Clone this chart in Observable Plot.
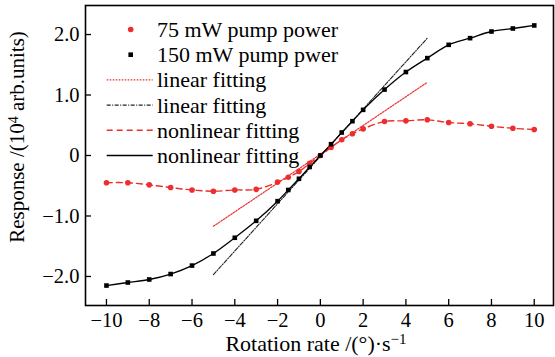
<!DOCTYPE html>
<html><head><meta charset="utf-8">
<script src="https://cdn.jsdelivr.net/npm/d3@7"></script>
<script src="https://cdn.jsdelivr.net/npm/@observablehq/plot@0.6"></script>
<style>
body{margin:0;background:#fff;}
#chart svg{font-family:"Liberation Serif","Times New Roman",serif;}
</style></head><body><div id="chart"></div>
<script>
const rates = [-10,-9,-8,-7,-6,-5,-4,-3,-2,-1.5,-1,-0.5,0,0.5,1,1.5,2,3,4,5,6,7,8,9,10];
const power75 = [-0.45,-0.45,-0.485,-0.53,-0.57,-0.59,-0.57,-0.56,-0.44,-0.36,-0.265,-0.13,0,0.132,0.26,0.36,0.44,0.562,0.573,0.59,0.545,0.524,0.484,0.45,0.43];
const power150 = [-2.15,-2.10,-2.05,-1.96,-1.82,-1.62,-1.36,-1.08,-0.755,-0.57,-0.385,-0.19,0,0.187,0.38,0.567,0.755,1.09,1.38,1.61,1.83,1.94,2.05,2.10,2.15];
const fitRates = [-5, 5];
const linear75 = [-1.17, 1.21];
const linear150 = [-1.97, 1.94];
const xTicks = [-10,-8,-6,-4,-2,0,2,4,6,8,10];
const yTicks = [-2,-1,0,1,2];
const yTickLabels = ["\u22122.0","\u22121.0","0","1.0","2.0"];
const legendLabels = ["75 mW pump power","150 mW pump pwer","linear fitting","linear fitting","nonlinear fitting","nonlinear fitting"];

const RED = "#ee2e2e";
const d75 = rates.map((x,i)=>({x, y: power75[i]}));
const d150 = rates.map((x,i)=>({x, y: power150[i]}));
const f75 = fitRates.map((x,i)=>({x, y: linear75[i]}));
const f150 = fitRates.map((x,i)=>({x, y: linear150[i]}));

const svg = Plot.plot({
  width: 555, height: 357,
  marginLeft: 85, marginRight: 2, marginTop: 5, marginBottom: 52,
  style: {fontFamily: "'Liberation Serif', serif", fontSize: "20.5px", color: "black", background: "white"},
  x: {domain: [-10.98, 10.9]},
  y: {domain: [-2.48, 2.48]},
  marks: [
    Plot.axisX({ticks: xTicks, tickSize: -6, tickPadding: 13, label: null, tickFormat: d => d3.format("d")(d), strokeWidth: 1.3}),
    Plot.axisY({ticks: yTicks, tickSize: -6, tickPadding: 12, label: null, tickFormat: d => yTickLabels[yTicks.indexOf(d)], strokeWidth: 1.3}),
    Plot.line(f75, {x: "x", y: "y", stroke: RED, strokeWidth: 1.2, strokeDasharray: "1.6,1.4"}),
    Plot.line(f150, {x: "x", y: "y", stroke: "#222", strokeWidth: 1.1, strokeDasharray: "4,1.5,1,1.5"}),
    Plot.line(d75, {x: "x", y: "y", stroke: RED, strokeWidth: 1.4, strokeDasharray: "6,4", curve: "catmull-rom"}),
    Plot.line(d150, {x: "x", y: "y", stroke: "black", strokeWidth: 1.3, curve: "catmull-rom"}),
    Plot.dot(d75, {x: "x", y: "y", r: 2.8, fill: RED}),
    Plot.dot(d150, {x: "x", y: "y", r: 2.6, symbol: "square", fill: "black"}),
    Plot.frame({stroke: "black", strokeWidth: 1.6})
  ]
});
document.getElementById("chart").appendChild(svg);

const s = d3.select(svg);
// legend
const lg = s.append("g").attr("font-size", 22).attr("text-anchor", "start").attr("font-family", "'Liberation Serif', serif");
const rowY = i => 29.5 + i * 25.2;
const styles = [
  {type: "dot"}, {type: "square"},
  {type: "line", stroke: RED, dash: "1.6,1.4", w: 1.2},
  {type: "line", stroke: "#222", dash: "4,1.5,1,1.5", w: 1.1},
  {type: "line", stroke: RED, dash: "6,4", w: 1.4},
  {type: "line", stroke: "black", dash: null, w: 1.3}
];
legendLabels.forEach((t, i) => {
  const y = rowY(i), st = styles[i];
  if (st.type === "dot") lg.append("circle").attr("cx", 130.7).attr("cy", y).attr("r", 2.8).attr("fill", RED);
  else if (st.type === "square") lg.append("rect").attr("x", 128.4).attr("y", y - 2.3).attr("width", 4.6).attr("height", 4.6).attr("fill", "black");
  else lg.append("line").attr("x1", 106.7).attr("x2", 152.7).attr("y1", y).attr("y2", y)
        .attr("stroke", st.stroke).attr("stroke-width", st.w).attr("stroke-dasharray", st.dash);
  lg.append("text").attr("x", 157).attr("y", y).attr("dy", "0.34em").text(t);
});
// axis labels
const xl = s.append("text").attr("x", 316).attr("y", 351).attr("text-anchor", "middle").attr("font-size", 22);
xl.append("tspan").text("Rotation rate /(\u00B0)\u00B7s");
xl.append("tspan").attr("dy", "-0.45em").attr("font-size", 15).text("\u22121");
const yl = s.append("text").attr("transform", "translate(24,137) rotate(-90)").attr("text-anchor", "middle").attr("font-size", 21);
yl.append("tspan").text("Response /(10");
yl.append("tspan").attr("dy", "-0.45em").attr("font-size", 14).text("4");
yl.append("tspan").attr("dy", "0.3em").text(" arb.units)");
</script></body></html>
